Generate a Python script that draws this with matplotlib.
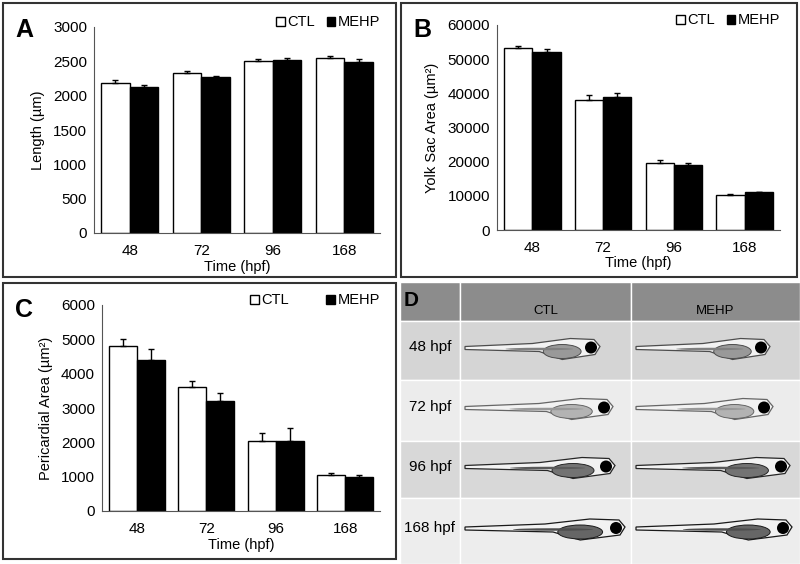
import numpy as np
import matplotlib
matplotlib.use('Agg')
import matplotlib.pyplot as plt
from matplotlib.patches import Rectangle, Polygon, Ellipse

plt.rcParams['font.family'] = ['Liberation Sans', 'DejaVu Sans']

times = ['48', '72', '96', '168']

length_ctl = [2185, 2325, 2505, 2545]
length_ctl_err = [45, 35, 35, 30]
length_mehp = [2125, 2275, 2515, 2490]
length_mehp_err = [35, 10, 35, 40]

yolk_ctl = [53200, 38100, 19700, 10300]
yolk_ctl_err = [700, 1500, 800, 250]
yolk_mehp = [52100, 38900, 19100, 11000]
yolk_mehp_err = [900, 1200, 600, 250]

peri_ctl = [4810, 3620, 2045, 1045]
peri_ctl_err = [210, 170, 215, 70]
peri_mehp = [4400, 3210, 2025, 985]
peri_mehp_err = [320, 235, 390, 70]

rows_d = ['48 hpf', '72 hpf', '96 hpf', '168 hpf']
cols_d = ['CTL', 'MEHP']

W, H = 800, 564
fig = plt.figure(figsize=(8, 5.64), dpi=100)


def fr(x0, y0, x1, y1):
    # pixel box (top-left origin) -> figure fraction [l, b, w, h]
    return [x0 / W, 1 - y1 / H, (x1 - x0) / W, (y1 - y0) / H]


def border(x0, y0, x1, y1):
    l, b, w, h = fr(x0, y0, x1, y1)
    fig.patches.append(Rectangle((l, b), w, h, transform=fig.transFigure,
                                 fill=False, ec='#333333', lw=1.5))


def bar_panel(box, axbox, ctl, ctl_err, mehp, mehp_err, ymax, step, ylabel,
              letter, leg_gap):
    border(*box)
    ax = fig.add_axes(fr(*axbox))
    x = np.arange(len(times))
    w = 0.4
    ek = dict(ecolor='black', elinewidth=1, capsize=2.5, capthick=1)
    ax.bar(x - w / 2, ctl, w, color='white', edgecolor='black', lw=1,
           yerr=[np.zeros(4), ctl_err], error_kw=ek, label='CTL')
    ax.bar(x + w / 2, mehp, w, color='black', edgecolor='black', lw=1,
           yerr=[np.zeros(4), mehp_err], error_kw=ek, label='MEHP')
    ax.set_xlim(-0.5, 3.5)
    ax.set_ylim(0, ymax)
    ax.set_yticks(np.arange(0, ymax + 1, step))
    ax.set_xticks(x)
    ax.set_xticklabels(times)
    ax.tick_params(axis='both', length=0, labelsize=11, pad=5)
    ax.tick_params(axis='x', pad=8)
    for s in ['top', 'right']:
        ax.spines[s].set_visible(False)
    for s in ['left', 'bottom']:
        ax.spines[s].set_color('#555555')
    ax.set_xlabel('Time (hpf)', fontsize=10.5, labelpad=1)
    ax.set_ylabel(ylabel, fontsize=10.5, labelpad=6)
    ax.legend(loc='upper right', bbox_to_anchor=(1.02, 1.085), ncol=2,
              frameon=False, fontsize=10.5, handlelength=0.6,
              handleheight=0.6, handletextpad=0.15, columnspacing=leg_gap,
              borderaxespad=0)
    fig.text((box[0] + 12) / W, 1 - (box[1] + 34) / H, letter,
             fontsize=18, fontweight='bold')
    return ax


bar_panel((3, 3, 396, 277), (94, 27, 380, 233), length_ctl, length_ctl_err,
          length_mehp, length_mehp_err, 3000, 500, 'Length (µm)', 'A', 0.8)
bar_panel((401, 3, 797, 277), (497, 25, 780, 230), yolk_ctl, yolk_ctl_err,
          yolk_mehp, yolk_mehp_err, 60000, 10000, 'Yolk Sac Area (µm²)', 'B',
          0.8)
bar_panel((3, 283, 396, 559), (102, 305, 380, 511), peri_ctl, peri_ctl_err,
          peri_mehp, peri_mehp_err, 6000, 1000, 'Pericardial Area (µm²)', 'C',
          2.6)

# panel D: image table (fish drawn schematically)
axd = fig.add_axes(fr(400, 282, 800, 564))
axd.set_xlim(400, 800)
axd.set_ylim(564, 282)
axd.axis('off')
col_edges = [400, 460, 631, 800]
row_edges = [282, 321, 380, 441, 498, 564]
row_colors = ['#8c8c8c', '#d5d5d5', '#ececec', '#d8d8d8', '#ededed']
for i in range(5):
    for j in range(3):
        axd.add_patch(Rectangle((col_edges[j], row_edges[i]),
                                col_edges[j + 1] - col_edges[j],
                                row_edges[i + 1] - row_edges[i],
                                fc=row_colors[i], ec='white', lw=1))
axd.text(404, 300, 'D', fontsize=15, fontweight='bold', va='center')
for j, c in enumerate(cols_d):
    axd.text((col_edges[j + 1] + col_edges[j + 2]) / 2, 311, c,
             ha='center', va='center', fontsize=9.5)
for i, r in enumerate(rows_d):
    axd.text(430, (row_edges[i + 1] + row_edges[i + 2]) / 2 - 3, r,
             ha='center', va='center', fontsize=11)

fish_dark = [0.3, 0.4, 0.15, 0.1]
fish_end = [[600, 770], [613, 773], [615, 790], [625, 792]]
for i in range(4):
    yc = (row_edges[i + 1] + row_edges[i + 2]) / 2 - 3
    for j in range(2):
        x1 = col_edges[j + 2] - (col_edges[j + 2] - fish_end[i][j]) - 2
        x1 = fish_end[i][j] - (0 if j == 0 else 0) - (j * 0)
        x0 = col_edges[j + 1] + 5
        L = x1 - x0
        g = fish_dark[i]
        body = Polygon([(x0, yc - 1), (x0 + 0.5 * L, yc - 4),
                        (x0 + 0.78 * L, yc - 9), (x1 - 6, yc - 8),
                        (x1, yc - 1), (x1 - 5, yc + 7),
                        (x0 + 0.72 * L, yc + 12), (x0 + 0.55 * L, yc + 4),
                        (x0, yc + 2)],
                       closed=True, fc='#f2f2f2', ec=str(g), lw=0.9)
        axd.add_patch(body)
        axd.add_patch(Ellipse((x0 + 0.72 * L, yc + 4), 0.28 * L, 14,
                              fc=str(g + 0.3), ec=str(g), lw=0.7))
        axd.add_patch(Ellipse((x0 + 0.55 * L, yc + 1.5), 0.5 * L, 2.5,
                              fc=str(g + 0.2), ec='none'))
        axd.add_patch(Ellipse((x1 - 9, yc), 12, 12, fc='black'))

fig.savefig('out.png', dpi=100)
